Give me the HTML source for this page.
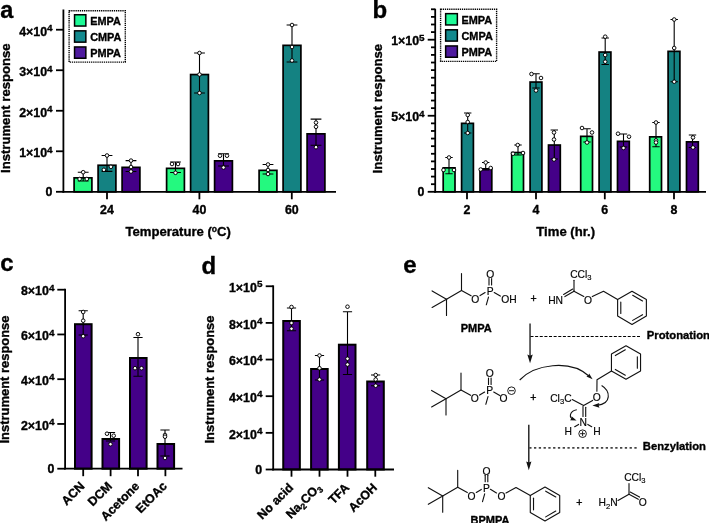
<!DOCTYPE html>
<html lang="en"><head><meta charset="utf-8"><title>Figure</title>
<style>
html,body{margin:0;padding:0;background:#fff;}
svg{display:block;will-change:transform;font-family:"Liberation Sans",Arial,Helvetica,sans-serif;}
text{fill:#000;}
text[font-weight="bold"]{stroke:#000;stroke-width:.35px;stroke-linejoin:round;}
</style></head><body>
<svg width="709" height="523" viewBox="0 0 709 523">
<g id="pa">
<text x="0.30" y="18.20" font-size="23.5" font-weight="bold" text-anchor="start" >a</text>
<rect x="74.10" y="177.85" width="17.80" height="13.95" fill="#24f97f" stroke="#000" stroke-width="1.7"/>
<rect x="98.10" y="165.25" width="17.80" height="26.55" fill="#148282" stroke="#000" stroke-width="1.7"/>
<rect x="122.10" y="167.35" width="17.80" height="24.45" fill="#440088" stroke="#000" stroke-width="1.7"/>
<rect x="166.60" y="168.35" width="17.80" height="23.45" fill="#24f97f" stroke="#000" stroke-width="1.7"/>
<rect x="190.60" y="74.55" width="17.80" height="117.25" fill="#148282" stroke="#000" stroke-width="1.7"/>
<rect x="214.60" y="160.85" width="17.80" height="30.95" fill="#440088" stroke="#000" stroke-width="1.7"/>
<rect x="259.10" y="170.35" width="17.80" height="21.45" fill="#24f97f" stroke="#000" stroke-width="1.7"/>
<rect x="283.10" y="45.35" width="17.80" height="146.45" fill="#148282" stroke="#000" stroke-width="1.7"/>
<rect x="307.10" y="133.85" width="17.80" height="57.95" fill="#440088" stroke="#000" stroke-width="1.7"/>
<path d="M83.20 172.20V181.00M77.80 172.20H88.60M77.80 181.00H88.60" stroke="#000" stroke-width="1.1" fill="none"/>
<circle cx="83.20" cy="172.20" r="1.8" fill="#fff" stroke="#000" stroke-width="0.95"/>
<circle cx="79.60" cy="179.00" r="1.8" fill="#fff" stroke="#000" stroke-width="0.95"/>
<circle cx="86.80" cy="179.00" r="1.8" fill="#fff" stroke="#000" stroke-width="0.95"/>
<path d="M107.00 155.50V171.40M101.60 155.50H112.40M101.60 171.40H112.40" stroke="#000" stroke-width="1.1" fill="none"/>
<circle cx="107.00" cy="155.50" r="1.8" fill="#fff" stroke="#000" stroke-width="0.95"/>
<circle cx="103.90" cy="169.80" r="1.8" fill="#fff" stroke="#000" stroke-width="0.95"/>
<circle cx="110.90" cy="166.80" r="1.8" fill="#fff" stroke="#000" stroke-width="0.95"/>
<path d="M131.00 160.60V171.50M125.60 160.60H136.40M125.60 171.50H136.40" stroke="#000" stroke-width="1.1" fill="none"/>
<circle cx="131.00" cy="160.60" r="1.8" fill="#fff" stroke="#000" stroke-width="0.95"/>
<circle cx="131.00" cy="167.00" r="1.8" fill="#fff" stroke="#000" stroke-width="0.95"/>
<circle cx="131.00" cy="171.50" r="1.8" fill="#fff" stroke="#000" stroke-width="0.95"/>
<path d="M175.50 162.00V172.50M170.10 162.00H180.90M170.10 172.50H180.90" stroke="#000" stroke-width="1.1" fill="none"/>
<circle cx="172.00" cy="164.00" r="1.8" fill="#fff" stroke="#000" stroke-width="0.95"/>
<circle cx="178.00" cy="164.00" r="1.8" fill="#fff" stroke="#000" stroke-width="0.95"/>
<circle cx="175.50" cy="172.80" r="1.8" fill="#fff" stroke="#000" stroke-width="0.95"/>
<path d="M199.50 53.00V93.00M194.10 53.00H204.90M194.10 93.00H204.90" stroke="#000" stroke-width="1.1" fill="none"/>
<circle cx="199.50" cy="53.00" r="1.8" fill="#fff" stroke="#000" stroke-width="0.95"/>
<circle cx="199.50" cy="74.50" r="1.8" fill="#fff" stroke="#000" stroke-width="0.95"/>
<circle cx="199.50" cy="93.00" r="1.8" fill="#fff" stroke="#000" stroke-width="0.95"/>
<path d="M223.50 153.70V166.00M218.10 153.70H228.90M218.10 166.00H228.90" stroke="#000" stroke-width="1.1" fill="none"/>
<circle cx="220.00" cy="155.70" r="1.8" fill="#fff" stroke="#000" stroke-width="0.95"/>
<circle cx="227.00" cy="155.70" r="1.8" fill="#fff" stroke="#000" stroke-width="0.95"/>
<circle cx="223.50" cy="167.50" r="1.8" fill="#fff" stroke="#000" stroke-width="0.95"/>
<path d="M268.00 164.50V174.00M262.60 164.50H273.40M262.60 174.00H273.40" stroke="#000" stroke-width="1.1" fill="none"/>
<circle cx="268.00" cy="164.50" r="1.8" fill="#fff" stroke="#000" stroke-width="0.95"/>
<circle cx="268.00" cy="170.00" r="1.8" fill="#fff" stroke="#000" stroke-width="0.95"/>
<circle cx="268.00" cy="174.00" r="1.8" fill="#fff" stroke="#000" stroke-width="0.95"/>
<path d="M292.00 25.00V62.00M286.60 25.00H297.40M286.60 62.00H297.40" stroke="#000" stroke-width="1.1" fill="none"/>
<circle cx="292.00" cy="25.00" r="1.8" fill="#fff" stroke="#000" stroke-width="0.95"/>
<circle cx="292.00" cy="47.00" r="1.8" fill="#fff" stroke="#000" stroke-width="0.95"/>
<circle cx="292.00" cy="60.50" r="1.8" fill="#fff" stroke="#000" stroke-width="0.95"/>
<path d="M316.00 119.10V145.30M310.60 119.10H321.40M310.60 145.30H321.40" stroke="#000" stroke-width="1.1" fill="none"/>
<circle cx="316.00" cy="122.60" r="1.8" fill="#fff" stroke="#000" stroke-width="0.95"/>
<circle cx="316.00" cy="126.80" r="1.8" fill="#fff" stroke="#000" stroke-width="0.95"/>
<circle cx="316.00" cy="147.20" r="1.8" fill="#fff" stroke="#000" stroke-width="0.95"/>
<line x1="63.40" y1="9.50" x2="63.40" y2="192.70" stroke="#000" stroke-width="1.8" />
<line x1="62.50" y1="191.80" x2="336.00" y2="191.80" stroke="#000" stroke-width="1.8" />
<line x1="56.00" y1="191.80" x2="63.40" y2="191.80" stroke="#000" stroke-width="1.8" />
<text x="52.50" y="196.00" font-size="12.4" font-weight="bold" text-anchor="end" >0</text>
<line x1="56.00" y1="151.28" x2="63.40" y2="151.28" stroke="#000" stroke-width="1.8" />
<text x="52.60" y="157.08" font-size="12.4" font-weight="bold" text-anchor="end">1×10<tspan font-size="9.92" dy="-4.5">4</tspan></text>
<line x1="56.00" y1="110.76" x2="63.40" y2="110.76" stroke="#000" stroke-width="1.8" />
<text x="52.60" y="116.56" font-size="12.4" font-weight="bold" text-anchor="end">2×10<tspan font-size="9.92" dy="-4.5">4</tspan></text>
<line x1="56.00" y1="70.24" x2="63.40" y2="70.24" stroke="#000" stroke-width="1.8" />
<text x="52.60" y="76.04" font-size="12.4" font-weight="bold" text-anchor="end">3×10<tspan font-size="9.92" dy="-4.5">4</tspan></text>
<line x1="56.00" y1="29.72" x2="63.40" y2="29.72" stroke="#000" stroke-width="1.8" />
<text x="52.60" y="35.52" font-size="12.4" font-weight="bold" text-anchor="end">4×10<tspan font-size="9.92" dy="-4.5">4</tspan></text>
<line x1="107.00" y1="191.80" x2="107.00" y2="199.30" stroke="#000" stroke-width="1.8" />
<text x="107.00" y="213.50" font-size="12.4" font-weight="bold" text-anchor="middle" >24</text>
<line x1="199.40" y1="191.80" x2="199.40" y2="199.30" stroke="#000" stroke-width="1.8" />
<text x="199.40" y="213.50" font-size="12.4" font-weight="bold" text-anchor="middle" >40</text>
<line x1="291.80" y1="191.80" x2="291.80" y2="199.30" stroke="#000" stroke-width="1.8" />
<text x="291.80" y="213.50" font-size="12.4" font-weight="bold" text-anchor="middle" >60</text>
<text x="178.2" y="235.8" font-size="13.1" font-weight="bold" text-anchor="middle">Temperature (<tspan font-size="8.5" dy="-3.5">o</tspan><tspan dy="3.5">C)</tspan></text>
<text transform="translate(10.40 108.20) rotate(-90)" font-size="13.1" font-weight="bold" text-anchor="middle">Instrument response</text>
<rect x="69.1" y="10.7" width="56.2" height="51.4" fill="#fff" stroke="#000" stroke-width="1.4" stroke-dasharray="1.3 0.83"/>
<rect x="74.55" y="14.75" width="11.3" height="11.3" fill="#1dfa96" stroke="#000" stroke-width="1.5"/>
<text x="90.20" y="25.00" font-size="10.9" font-weight="bold" text-anchor="start" >EMPA</text>
<rect x="74.55" y="30.85" width="11.3" height="11.3" fill="#12898e" stroke="#000" stroke-width="1.5"/>
<text x="90.20" y="41.05" font-size="10.9" font-weight="bold" text-anchor="start" >CMPA</text>
<rect x="74.55" y="46.95" width="11.3" height="11.3" fill="#4e1a9e" stroke="#000" stroke-width="1.5"/>
<text x="90.20" y="57.10" font-size="10.9" font-weight="bold" text-anchor="start" >PMPA</text>
</g>
<g id="pb">
<text x="372.60" y="17.60" font-size="24" font-weight="bold" text-anchor="start" >b</text>
<rect x="443.20" y="167.85" width="11.80" height="23.95" fill="#24f97f" stroke="#000" stroke-width="1.7"/>
<rect x="461.60" y="123.35" width="11.80" height="68.45" fill="#148282" stroke="#000" stroke-width="1.7"/>
<rect x="480.00" y="168.85" width="11.80" height="22.95" fill="#440088" stroke="#000" stroke-width="1.7"/>
<rect x="511.70" y="152.55" width="11.80" height="39.25" fill="#24f97f" stroke="#000" stroke-width="1.7"/>
<rect x="530.10" y="82.05" width="11.80" height="109.75" fill="#148282" stroke="#000" stroke-width="1.7"/>
<rect x="548.50" y="145.05" width="11.80" height="46.75" fill="#440088" stroke="#000" stroke-width="1.7"/>
<rect x="580.70" y="136.35" width="11.80" height="55.45" fill="#24f97f" stroke="#000" stroke-width="1.7"/>
<rect x="599.10" y="52.05" width="11.80" height="139.75" fill="#148282" stroke="#000" stroke-width="1.7"/>
<rect x="617.50" y="141.35" width="11.80" height="50.45" fill="#440088" stroke="#000" stroke-width="1.7"/>
<rect x="649.70" y="136.85" width="11.80" height="54.95" fill="#24f97f" stroke="#000" stroke-width="1.7"/>
<rect x="668.10" y="51.35" width="11.80" height="140.45" fill="#148282" stroke="#000" stroke-width="1.7"/>
<rect x="686.50" y="141.85" width="11.80" height="49.95" fill="#440088" stroke="#000" stroke-width="1.7"/>
<path d="M449.00 157.50V173.70M445.30 157.50H452.70M445.30 173.70H452.70" stroke="#000" stroke-width="1.1" fill="none"/>
<circle cx="449.00" cy="157.50" r="1.8" fill="#fff" stroke="#000" stroke-width="0.95"/>
<circle cx="443.50" cy="170.00" r="1.8" fill="#fff" stroke="#000" stroke-width="0.95"/>
<circle cx="454.00" cy="170.00" r="1.8" fill="#fff" stroke="#000" stroke-width="0.95"/>
<path d="M467.70 113.00V133.00M464.00 113.00H471.40M464.00 133.00H471.40" stroke="#000" stroke-width="1.1" fill="none"/>
<circle cx="467.70" cy="115.00" r="1.8" fill="#fff" stroke="#000" stroke-width="0.95"/>
<circle cx="467.70" cy="122.00" r="1.8" fill="#fff" stroke="#000" stroke-width="0.95"/>
<circle cx="467.70" cy="133.00" r="1.8" fill="#fff" stroke="#000" stroke-width="0.95"/>
<path d="M485.70 162.50V170.00M482.00 162.50H489.40M482.00 170.00H489.40" stroke="#000" stroke-width="1.1" fill="none"/>
<circle cx="485.70" cy="162.50" r="1.8" fill="#fff" stroke="#000" stroke-width="0.95"/>
<circle cx="480.70" cy="169.50" r="1.8" fill="#fff" stroke="#000" stroke-width="0.95"/>
<circle cx="490.70" cy="168.00" r="1.8" fill="#fff" stroke="#000" stroke-width="0.95"/>
<path d="M518.00 145.00V155.00M514.30 145.00H521.70M514.30 155.00H521.70" stroke="#000" stroke-width="1.1" fill="none"/>
<circle cx="517.70" cy="145.00" r="1.8" fill="#fff" stroke="#000" stroke-width="0.95"/>
<circle cx="513.00" cy="153.70" r="1.8" fill="#fff" stroke="#000" stroke-width="0.95"/>
<circle cx="523.00" cy="153.00" r="1.8" fill="#fff" stroke="#000" stroke-width="0.95"/>
<path d="M536.00 73.70V88.00M532.30 73.70H539.70M532.30 88.00H539.70" stroke="#000" stroke-width="1.1" fill="none"/>
<circle cx="531.50" cy="74.00" r="1.8" fill="#fff" stroke="#000" stroke-width="0.95"/>
<circle cx="541.00" cy="78.00" r="1.8" fill="#fff" stroke="#000" stroke-width="0.95"/>
<circle cx="536.00" cy="90.50" r="1.8" fill="#fff" stroke="#000" stroke-width="0.95"/>
<path d="M554.30 130.00V159.00M550.60 130.00H558.00M550.60 159.00H558.00" stroke="#000" stroke-width="1.1" fill="none"/>
<circle cx="554.00" cy="132.50" r="1.8" fill="#fff" stroke="#000" stroke-width="0.95"/>
<circle cx="554.00" cy="139.50" r="1.8" fill="#fff" stroke="#000" stroke-width="0.95"/>
<circle cx="554.00" cy="159.50" r="1.8" fill="#fff" stroke="#000" stroke-width="0.95"/>
<path d="M587.00 128.70V142.00M583.30 128.70H590.70M583.30 142.00H590.70" stroke="#000" stroke-width="1.1" fill="none"/>
<circle cx="582.00" cy="128.00" r="1.8" fill="#fff" stroke="#000" stroke-width="0.95"/>
<circle cx="592.00" cy="132.50" r="1.8" fill="#fff" stroke="#000" stroke-width="0.95"/>
<circle cx="587.00" cy="142.50" r="1.8" fill="#fff" stroke="#000" stroke-width="0.95"/>
<path d="M605.20 38.00V64.50M601.50 38.00H608.90M601.50 64.50H608.90" stroke="#000" stroke-width="1.1" fill="none"/>
<circle cx="605.20" cy="36.70" r="1.8" fill="#fff" stroke="#000" stroke-width="0.95"/>
<circle cx="605.20" cy="55.00" r="1.8" fill="#fff" stroke="#000" stroke-width="0.95"/>
<circle cx="605.20" cy="61.70" r="1.8" fill="#fff" stroke="#000" stroke-width="0.95"/>
<path d="M623.50 134.00V147.00M619.80 134.00H627.20M619.80 147.00H627.20" stroke="#000" stroke-width="1.1" fill="none"/>
<circle cx="618.00" cy="133.70" r="1.8" fill="#fff" stroke="#000" stroke-width="0.95"/>
<circle cx="629.00" cy="136.70" r="1.8" fill="#fff" stroke="#000" stroke-width="0.95"/>
<circle cx="623.50" cy="148.00" r="1.8" fill="#fff" stroke="#000" stroke-width="0.95"/>
<path d="M656.00 122.50V146.70M652.30 122.50H659.70M652.30 146.70H659.70" stroke="#000" stroke-width="1.1" fill="none"/>
<circle cx="656.00" cy="122.50" r="1.8" fill="#fff" stroke="#000" stroke-width="0.95"/>
<circle cx="656.00" cy="140.50" r="1.8" fill="#fff" stroke="#000" stroke-width="0.95"/>
<circle cx="656.00" cy="142.50" r="1.8" fill="#fff" stroke="#000" stroke-width="0.95"/>
<path d="M674.20 19.50V81.70M670.50 19.50H677.90M670.50 81.70H677.90" stroke="#000" stroke-width="1.1" fill="none"/>
<circle cx="674.20" cy="19.50" r="1.8" fill="#fff" stroke="#000" stroke-width="0.95"/>
<circle cx="674.20" cy="48.00" r="1.8" fill="#fff" stroke="#000" stroke-width="0.95"/>
<circle cx="674.20" cy="81.70" r="1.8" fill="#fff" stroke="#000" stroke-width="0.95"/>
<path d="M692.50 135.00V147.50M688.80 135.00H696.20M688.80 147.50H696.20" stroke="#000" stroke-width="1.1" fill="none"/>
<circle cx="693.00" cy="137.50" r="1.8" fill="#fff" stroke="#000" stroke-width="0.95"/>
<circle cx="693.00" cy="147.50" r="1.8" fill="#fff" stroke="#000" stroke-width="0.95"/>
<line x1="435.20" y1="8.75" x2="435.20" y2="192.70" stroke="#000" stroke-width="1.8" />
<line x1="434.30" y1="191.80" x2="706.00" y2="191.80" stroke="#000" stroke-width="1.8" />
<line x1="427.70" y1="191.80" x2="435.20" y2="191.80" stroke="#000" stroke-width="1.8" />
<line x1="431.00" y1="184.20" x2="435.20" y2="184.20" stroke="#000" stroke-width="1.8" />
<line x1="431.00" y1="176.59" x2="435.20" y2="176.59" stroke="#000" stroke-width="1.8" />
<line x1="431.00" y1="168.99" x2="435.20" y2="168.99" stroke="#000" stroke-width="1.8" />
<line x1="431.00" y1="161.38" x2="435.20" y2="161.38" stroke="#000" stroke-width="1.8" />
<line x1="431.00" y1="153.78" x2="435.20" y2="153.78" stroke="#000" stroke-width="1.8" />
<line x1="431.00" y1="146.17" x2="435.20" y2="146.17" stroke="#000" stroke-width="1.8" />
<line x1="431.00" y1="138.56" x2="435.20" y2="138.56" stroke="#000" stroke-width="1.8" />
<line x1="431.00" y1="130.96" x2="435.20" y2="130.96" stroke="#000" stroke-width="1.8" />
<line x1="431.00" y1="123.36" x2="435.20" y2="123.36" stroke="#000" stroke-width="1.8" />
<line x1="427.70" y1="115.75" x2="435.20" y2="115.75" stroke="#000" stroke-width="1.8" />
<line x1="431.00" y1="108.15" x2="435.20" y2="108.15" stroke="#000" stroke-width="1.8" />
<line x1="431.00" y1="100.54" x2="435.20" y2="100.54" stroke="#000" stroke-width="1.8" />
<line x1="431.00" y1="92.94" x2="435.20" y2="92.94" stroke="#000" stroke-width="1.8" />
<line x1="431.00" y1="85.33" x2="435.20" y2="85.33" stroke="#000" stroke-width="1.8" />
<line x1="431.00" y1="77.73" x2="435.20" y2="77.73" stroke="#000" stroke-width="1.8" />
<line x1="431.00" y1="70.12" x2="435.20" y2="70.12" stroke="#000" stroke-width="1.8" />
<line x1="431.00" y1="62.52" x2="435.20" y2="62.52" stroke="#000" stroke-width="1.8" />
<line x1="431.00" y1="54.91" x2="435.20" y2="54.91" stroke="#000" stroke-width="1.8" />
<line x1="431.00" y1="47.31" x2="435.20" y2="47.31" stroke="#000" stroke-width="1.8" />
<line x1="427.70" y1="39.70" x2="435.20" y2="39.70" stroke="#000" stroke-width="1.8" />
<line x1="431.00" y1="32.09" x2="435.20" y2="32.09" stroke="#000" stroke-width="1.8" />
<line x1="431.00" y1="24.49" x2="435.20" y2="24.49" stroke="#000" stroke-width="1.8" />
<line x1="431.00" y1="16.88" x2="435.20" y2="16.88" stroke="#000" stroke-width="1.8" />
<line x1="431.00" y1="9.28" x2="435.20" y2="9.28" stroke="#000" stroke-width="1.8" />
<text x="424.30" y="196.00" font-size="12.4" font-weight="bold" text-anchor="end" >0</text>
<text x="424.60" y="121.35" font-size="12.4" font-weight="bold" text-anchor="end">5×10<tspan font-size="9.92" dy="-4.5">4</tspan></text>
<text x="424.60" y="45.30" font-size="12.4" font-weight="bold" text-anchor="end">1×10<tspan font-size="9.92" dy="-4.5">5</tspan></text>
<line x1="467.00" y1="191.80" x2="467.00" y2="199.30" stroke="#000" stroke-width="1.8" />
<text x="467.00" y="213.50" font-size="12.4" font-weight="bold" text-anchor="middle" >2</text>
<line x1="536.00" y1="191.80" x2="536.00" y2="199.30" stroke="#000" stroke-width="1.8" />
<text x="536.00" y="213.50" font-size="12.4" font-weight="bold" text-anchor="middle" >4</text>
<line x1="604.80" y1="191.80" x2="604.80" y2="199.30" stroke="#000" stroke-width="1.8" />
<text x="604.80" y="213.50" font-size="12.4" font-weight="bold" text-anchor="middle" >6</text>
<line x1="674.00" y1="191.80" x2="674.00" y2="199.30" stroke="#000" stroke-width="1.8" />
<text x="674.00" y="213.50" font-size="12.4" font-weight="bold" text-anchor="middle" >8</text>
<text x="565.70" y="236.00" font-size="13.1" font-weight="bold" text-anchor="middle" >Time (hr.)</text>
<text transform="translate(381.60 108.70) rotate(-90)" font-size="13.1" font-weight="bold" text-anchor="middle">Instrument response</text>
<rect x="440.6" y="9.2" width="56" height="52.2" fill="#fff" stroke="#000" stroke-width="1.4" stroke-dasharray="1.3 0.83"/>
<rect x="445.65" y="13.65" width="11.7" height="11.3" fill="#1dfa96" stroke="#000" stroke-width="1.5"/>
<text x="461.50" y="23.90" font-size="10.9" font-weight="bold" text-anchor="start" >EMPA</text>
<rect x="445.65" y="29.80" width="11.7" height="11.3" fill="#12898e" stroke="#000" stroke-width="1.5"/>
<text x="461.50" y="40.00" font-size="10.9" font-weight="bold" text-anchor="start" >CMPA</text>
<rect x="445.65" y="45.95" width="11.7" height="11.3" fill="#4e1a9e" stroke="#000" stroke-width="1.5"/>
<text x="461.50" y="56.10" font-size="10.9" font-weight="bold" text-anchor="start" >PMPA</text>
</g>
<g id="pc">
<text x="0.20" y="271.00" font-size="24" font-weight="bold" text-anchor="start" >c</text>
<rect x="75.00" y="324.20" width="16.60" height="144.50" fill="#440088" stroke="#000" stroke-width="2.0"/>
<rect x="102.50" y="439.00" width="16.60" height="29.70" fill="#440088" stroke="#000" stroke-width="2.0"/>
<rect x="130.00" y="358.00" width="16.60" height="110.70" fill="#440088" stroke="#000" stroke-width="2.0"/>
<rect x="157.50" y="444.00" width="16.60" height="24.70" fill="#440088" stroke="#000" stroke-width="2.0"/>
<path d="M83.20 310.70V335.00M78.60 310.70H87.80M78.60 335.00H87.80" stroke="#000" stroke-width="1.1" fill="none"/>
<circle cx="83.20" cy="312.00" r="1.8" fill="#fff" stroke="#000" stroke-width="0.95"/>
<circle cx="83.20" cy="320.70" r="1.8" fill="#fff" stroke="#000" stroke-width="0.95"/>
<circle cx="83.20" cy="336.20" r="1.8" fill="#fff" stroke="#000" stroke-width="0.95"/>
<path d="M110.50 432.50V441.00M105.90 432.50H115.10M105.90 441.00H115.10" stroke="#000" stroke-width="1.1" fill="none"/>
<circle cx="107.00" cy="433.70" r="1.8" fill="#fff" stroke="#000" stroke-width="0.95"/>
<circle cx="113.70" cy="435.70" r="1.8" fill="#fff" stroke="#000" stroke-width="0.95"/>
<circle cx="110.50" cy="444.20" r="1.8" fill="#fff" stroke="#000" stroke-width="0.95"/>
<path d="M138.00 337.50V376.20M133.40 337.50H142.60M133.40 376.20H142.60" stroke="#000" stroke-width="1.1" fill="none"/>
<circle cx="138.00" cy="334.20" r="1.8" fill="#fff" stroke="#000" stroke-width="0.95"/>
<circle cx="135.00" cy="368.20" r="1.8" fill="#fff" stroke="#000" stroke-width="0.95"/>
<circle cx="141.50" cy="368.20" r="1.8" fill="#fff" stroke="#000" stroke-width="0.95"/>
<path d="M165.00 430.00V456.00M160.40 430.00H169.60M160.40 456.00H169.60" stroke="#000" stroke-width="1.1" fill="none"/>
<circle cx="165.00" cy="435.00" r="1.8" fill="#fff" stroke="#000" stroke-width="0.95"/>
<circle cx="165.00" cy="436.70" r="1.8" fill="#fff" stroke="#000" stroke-width="0.95"/>
<circle cx="165.00" cy="458.00" r="1.8" fill="#fff" stroke="#000" stroke-width="0.95"/>
<line x1="65.10" y1="288.80" x2="65.10" y2="469.60" stroke="#000" stroke-width="1.8" />
<line x1="64.20" y1="468.70" x2="182.50" y2="468.70" stroke="#000" stroke-width="1.8" />
<line x1="57.30" y1="468.70" x2="65.10" y2="468.70" stroke="#000" stroke-width="1.8" />
<text x="54.30" y="472.90" font-size="12.4" font-weight="bold" text-anchor="end" >0</text>
<line x1="57.30" y1="423.95" x2="65.10" y2="423.95" stroke="#000" stroke-width="1.8" />
<text x="54.40" y="429.65" font-size="12.4" font-weight="bold" text-anchor="end">2×10<tspan font-size="9.92" dy="-4.5">4</tspan></text>
<line x1="57.30" y1="379.20" x2="65.10" y2="379.20" stroke="#000" stroke-width="1.8" />
<text x="54.40" y="384.90" font-size="12.4" font-weight="bold" text-anchor="end">4×10<tspan font-size="9.92" dy="-4.5">4</tspan></text>
<line x1="57.30" y1="334.45" x2="65.10" y2="334.45" stroke="#000" stroke-width="1.8" />
<text x="54.40" y="340.15" font-size="12.4" font-weight="bold" text-anchor="end">6×10<tspan font-size="9.92" dy="-4.5">4</tspan></text>
<line x1="57.30" y1="289.70" x2="65.10" y2="289.70" stroke="#000" stroke-width="1.8" />
<text x="54.40" y="295.40" font-size="12.4" font-weight="bold" text-anchor="end">8×10<tspan font-size="9.92" dy="-4.5">4</tspan></text>
<line x1="83.20" y1="468.70" x2="83.20" y2="476.20" stroke="#000" stroke-width="1.8" />
<text transform="translate(85.40 486.90) rotate(-45)" font-size="12.4" font-weight="bold" text-anchor="end">ACN</text>
<line x1="110.60" y1="468.70" x2="110.60" y2="476.20" stroke="#000" stroke-width="1.8" />
<text transform="translate(112.80 486.90) rotate(-45)" font-size="12.4" font-weight="bold" text-anchor="end">DCM</text>
<line x1="138.00" y1="468.70" x2="138.00" y2="476.20" stroke="#000" stroke-width="1.8" />
<text transform="translate(140.20 486.90) rotate(-45)" font-size="12.4" font-weight="bold" text-anchor="end">Acetone</text>
<line x1="165.40" y1="468.70" x2="165.40" y2="476.20" stroke="#000" stroke-width="1.8" />
<text transform="translate(167.60 486.90) rotate(-45)" font-size="12.4" font-weight="bold" text-anchor="end">EtOAc</text>
<text transform="translate(8.60 379.50) rotate(-90)" font-size="12.95" font-weight="bold" text-anchor="middle">Instrument response</text>
</g>
<g id="pd">
<text x="201.60" y="273.80" font-size="24" font-weight="bold" text-anchor="start" >d</text>
<rect x="283.25" y="321.00" width="16.60" height="148.50" fill="#440088" stroke="#000" stroke-width="2.0"/>
<rect x="311.10" y="369.00" width="16.60" height="100.50" fill="#440088" stroke="#000" stroke-width="2.0"/>
<rect x="338.90" y="344.70" width="16.60" height="124.80" fill="#440088" stroke="#000" stroke-width="2.0"/>
<rect x="367.20" y="381.50" width="16.60" height="88.00" fill="#440088" stroke="#000" stroke-width="2.0"/>
<path d="M291.50 308.00V330.70M286.90 308.00H296.10M286.90 330.70H296.10" stroke="#000" stroke-width="1.1" fill="none"/>
<circle cx="291.50" cy="307.00" r="1.8" fill="#fff" stroke="#000" stroke-width="0.95"/>
<circle cx="291.50" cy="323.00" r="1.8" fill="#fff" stroke="#000" stroke-width="0.95"/>
<circle cx="291.50" cy="328.70" r="1.8" fill="#fff" stroke="#000" stroke-width="0.95"/>
<path d="M319.50 355.50V380.00M314.90 355.50H324.10M314.90 380.00H324.10" stroke="#000" stroke-width="1.1" fill="none"/>
<circle cx="319.50" cy="355.50" r="1.8" fill="#fff" stroke="#000" stroke-width="0.95"/>
<circle cx="319.50" cy="368.20" r="1.8" fill="#fff" stroke="#000" stroke-width="0.95"/>
<circle cx="319.50" cy="379.50" r="1.8" fill="#fff" stroke="#000" stroke-width="0.95"/>
<path d="M347.50 311.70V374.50M342.90 311.70H352.10M342.90 374.50H352.10" stroke="#000" stroke-width="1.1" fill="none"/>
<circle cx="347.50" cy="306.70" r="1.8" fill="#fff" stroke="#000" stroke-width="0.95"/>
<circle cx="347.50" cy="358.70" r="1.8" fill="#fff" stroke="#000" stroke-width="0.95"/>
<circle cx="347.50" cy="364.50" r="1.8" fill="#fff" stroke="#000" stroke-width="0.95"/>
<path d="M375.60 375.00V385.70M371.00 375.00H380.20M371.00 385.70H380.20" stroke="#000" stroke-width="1.1" fill="none"/>
<circle cx="375.70" cy="375.00" r="1.8" fill="#fff" stroke="#000" stroke-width="0.95"/>
<circle cx="375.70" cy="379.50" r="1.8" fill="#fff" stroke="#000" stroke-width="0.95"/>
<circle cx="375.70" cy="385.70" r="1.8" fill="#fff" stroke="#000" stroke-width="0.95"/>
<line x1="273.20" y1="285.35" x2="273.20" y2="470.40" stroke="#000" stroke-width="1.8" />
<line x1="272.30" y1="469.50" x2="394.00" y2="469.50" stroke="#000" stroke-width="1.8" />
<line x1="265.70" y1="469.50" x2="273.20" y2="469.50" stroke="#000" stroke-width="1.8" />
<text x="262.20" y="473.70" font-size="12.4" font-weight="bold" text-anchor="end" >0</text>
<line x1="265.70" y1="432.85" x2="273.20" y2="432.85" stroke="#000" stroke-width="1.8" />
<text x="262.40" y="438.55" font-size="12.4" font-weight="bold" text-anchor="end">2×10<tspan font-size="9.92" dy="-4.5">4</tspan></text>
<line x1="265.70" y1="396.20" x2="273.20" y2="396.20" stroke="#000" stroke-width="1.8" />
<text x="262.40" y="401.90" font-size="12.4" font-weight="bold" text-anchor="end">4×10<tspan font-size="9.92" dy="-4.5">4</tspan></text>
<line x1="265.70" y1="359.55" x2="273.20" y2="359.55" stroke="#000" stroke-width="1.8" />
<text x="262.40" y="365.25" font-size="12.4" font-weight="bold" text-anchor="end">6×10<tspan font-size="9.92" dy="-4.5">4</tspan></text>
<line x1="265.70" y1="322.90" x2="273.20" y2="322.90" stroke="#000" stroke-width="1.8" />
<text x="262.40" y="328.60" font-size="12.4" font-weight="bold" text-anchor="end">8×10<tspan font-size="9.92" dy="-4.5">4</tspan></text>
<line x1="265.70" y1="286.25" x2="273.20" y2="286.25" stroke="#000" stroke-width="1.8" />
<text x="262.40" y="291.95" font-size="12.4" font-weight="bold" text-anchor="end">1×10<tspan font-size="9.92" dy="-4.5">5</tspan></text>
<line x1="291.50" y1="469.50" x2="291.50" y2="476.70" stroke="#000" stroke-width="1.8" />
<text transform="translate(294.00 488.30) rotate(-45)" font-size="12.4" font-weight="bold" text-anchor="end">No acid</text>
<line x1="319.50" y1="469.50" x2="319.50" y2="476.70" stroke="#000" stroke-width="1.8" />
<text transform="translate(322.00 488.30) rotate(-45)" font-size="12.4" font-weight="bold" text-anchor="end">Na<tspan font-size="8.5" dy="2.5">2</tspan><tspan dy="-2.5">CO</tspan><tspan font-size="8.5" dy="2.5">3</tspan></text>
<line x1="347.50" y1="469.50" x2="347.50" y2="476.70" stroke="#000" stroke-width="1.8" />
<text transform="translate(350.00 488.30) rotate(-45)" font-size="12.4" font-weight="bold" text-anchor="end">TFA</text>
<line x1="375.30" y1="469.50" x2="375.30" y2="476.70" stroke="#000" stroke-width="1.8" />
<text transform="translate(377.80 488.30) rotate(-45)" font-size="12.4" font-weight="bold" text-anchor="end">AcOH</text>
<text transform="translate(213.80 379.50) rotate(-90)" font-size="12.95" font-weight="bold" text-anchor="middle">Instrument response</text>
</g>
<g id="pe">
<text x="403.30" y="272.60" font-size="24" font-weight="bold" text-anchor="start">e</text>
<path d="M432.10 290.90 L446.50 299.20 L432.10 307.50" stroke="#111" stroke-width="1.12" fill="none" stroke-linecap="round" stroke-linejoin="round"/>
<path d="M446.50 299.20 L446.50 315.40" stroke="#111" stroke-width="1.12" fill="none" stroke-linecap="round" stroke-linejoin="round"/>
<path d="M446.50 299.20 L461.50 290.50 L461.50 273.50" stroke="#111" stroke-width="1.12" fill="none" stroke-linecap="round" stroke-linejoin="round"/>
<path d="M461.50 290.50 L471.10 295.80" stroke="#111" stroke-width="1.12" fill="none" stroke-linecap="round" stroke-linejoin="round"/>
<text x="475.30" y="302.91" font-size="10.3" text-anchor="middle" fill="#111" stroke="#111" stroke-width="0.18">O</text>
<path d="M480.10 295.60 L485.10 292.60" stroke="#111" stroke-width="1.12" fill="none" stroke-linecap="round" stroke-linejoin="round"/>
<text x="490.30" y="294.81" font-size="10.3" text-anchor="middle" fill="#111" stroke="#111" stroke-width="0.18">P</text>
<text x="490.30" y="277.71" font-size="10.3" text-anchor="middle" fill="#111" stroke="#111" stroke-width="0.18">O</text>
<path d="M489.00 278.50 L489.00 284.90" stroke="#111" stroke-width="1.12" fill="none" stroke-linecap="round" stroke-linejoin="round"/>
<path d="M491.60 278.50 L491.60 284.90" stroke="#111" stroke-width="1.12" fill="none" stroke-linecap="round" stroke-linejoin="round"/>
<path d="M488.50 297.10 L486.30 304.80" stroke="#111" stroke-width="1.12" fill="none" stroke-linecap="round" stroke-linejoin="round"/>
<path d="M494.20 292.50 L500.30 296.10" stroke="#111" stroke-width="1.12" fill="none" stroke-linecap="round" stroke-linejoin="round"/>
<text x="501.30" y="302.91" font-size="10.3" text-anchor="start" fill="#111" stroke="#111" stroke-width="0.18">OH</text>
<text x="476.20" y="331.80" font-size="11" font-weight="bold" text-anchor="middle">PMPA</text>
<text x="533.50" y="302.14" font-size="10.5" text-anchor="middle" fill="#111" stroke="#111" stroke-width="0.45">+</text>
<text x="548.20" y="303.71" font-size="10.3" text-anchor="start" fill="#111" stroke="#111" stroke-width="0.18">HN</text>
<path d="M564.90 296.60 L574.00 291.20" stroke="#111" stroke-width="1.12" fill="none" stroke-linecap="round" stroke-linejoin="round"/>
<path d="M563.62 294.45 L572.72 289.05" stroke="#111" stroke-width="1.12" fill="none" stroke-linecap="round" stroke-linejoin="round"/>
<path d="M574.00 291.20 L574.00 280.20" stroke="#111" stroke-width="1.12" fill="none" stroke-linecap="round" stroke-linejoin="round"/>
<text x="570.20" y="277.91" font-size="10.3" text-anchor="start" fill="#111" stroke="#111" stroke-width="0.18">CCl<tspan font-size="7.6" dy="2.4">3</tspan></text>
<path d="M574.00 291.20 L583.80 296.40" stroke="#111" stroke-width="1.12" fill="none" stroke-linecap="round" stroke-linejoin="round"/>
<text x="588.00" y="303.71" font-size="10.3" text-anchor="middle" fill="#111" stroke="#111" stroke-width="0.18">O</text>
<path d="M592.30 296.60 L603.50 291.20 L617.60 299.50" stroke="#111" stroke-width="1.12" fill="none" stroke-linecap="round" stroke-linejoin="round"/>
<path d="M632.00 291.20 L646.38 299.50 L646.38 316.10 L632.00 324.40 L617.62 316.10 L617.62 299.50Z" stroke="#111" stroke-width="1.12" fill="none" stroke-linejoin="round"/>
<path d="M620.79 313.50 L620.79 302.10" stroke="#111" stroke-width="1.12" fill="none" stroke-linecap="round" stroke-linejoin="round"/>
<path d="M632.67 295.24 L642.54 300.94" stroke="#111" stroke-width="1.12" fill="none" stroke-linecap="round" stroke-linejoin="round"/>
<path d="M642.54 314.66 L632.67 320.36" stroke="#111" stroke-width="1.12" fill="none" stroke-linecap="round" stroke-linejoin="round"/>
<path d="M530.05 323.4V357" stroke="#333" stroke-width="1.5" fill="none"/>
<path d="M530.05 363.20L527.35 354.60L530.05 355.63L532.75 354.60Z" fill="#111"/>
<path d="M530.5 336.45H640.5" stroke="#000" stroke-width="1.15" stroke-dasharray="3 1.63" fill="none"/>
<text x="646.80" y="338.80" font-size="11.25" font-weight="bold" text-anchor="start">Protonation</text>
<path d="M431.60 390.40 L446.00 398.70 L431.60 407.00" stroke="#111" stroke-width="1.12" fill="none" stroke-linecap="round" stroke-linejoin="round"/>
<path d="M446.00 398.70 L446.00 414.90" stroke="#111" stroke-width="1.12" fill="none" stroke-linecap="round" stroke-linejoin="round"/>
<path d="M446.00 398.70 L461.00 390.00 L461.00 373.00" stroke="#111" stroke-width="1.12" fill="none" stroke-linecap="round" stroke-linejoin="round"/>
<path d="M461.00 390.00 L470.60 395.30" stroke="#111" stroke-width="1.12" fill="none" stroke-linecap="round" stroke-linejoin="round"/>
<text x="474.80" y="402.41" font-size="10.3" text-anchor="middle" fill="#111" stroke="#111" stroke-width="0.18">O</text>
<path d="M479.60 395.10 L484.60 392.10" stroke="#111" stroke-width="1.12" fill="none" stroke-linecap="round" stroke-linejoin="round"/>
<text x="489.80" y="394.31" font-size="10.3" text-anchor="middle" fill="#111" stroke="#111" stroke-width="0.18">P</text>
<text x="489.80" y="377.21" font-size="10.3" text-anchor="middle" fill="#111" stroke="#111" stroke-width="0.18">O</text>
<path d="M488.50 378.00 L488.50 384.40" stroke="#111" stroke-width="1.12" fill="none" stroke-linecap="round" stroke-linejoin="round"/>
<path d="M491.10 378.00 L491.10 384.40" stroke="#111" stroke-width="1.12" fill="none" stroke-linecap="round" stroke-linejoin="round"/>
<path d="M488.00 396.60 L485.80 404.30" stroke="#111" stroke-width="1.12" fill="none" stroke-linecap="round" stroke-linejoin="round"/>
<path d="M493.70 392.00 L499.80 395.60" stroke="#111" stroke-width="1.12" fill="none" stroke-linecap="round" stroke-linejoin="round"/>
<text x="503.50" y="402.41" font-size="10.3" text-anchor="middle" fill="#111" stroke="#111" stroke-width="0.18">O</text>
<circle cx="511.5" cy="390.7" r="3.8" fill="none" stroke="#111" stroke-width="0.95"/>
<path d="M509.40 390.70 L513.60 390.70" stroke="#111" stroke-width="0.95" fill="none" stroke-linecap="round" stroke-linejoin="round"/>
<path d="M519.7 380C534 364.5 570 358.5 589.5 376.5" stroke="#111" stroke-width="1.12" fill="none"/>
<path d="M592.60 379.30L586.36 376.51L588.35 375.47L589.17 373.39Z" fill="#111"/>
<text x="533.30" y="400.84" font-size="10.5" text-anchor="middle" fill="#111" stroke="#111" stroke-width="0.45">+</text>
<text x="550.20" y="401.71" font-size="10.3" text-anchor="start" fill="#111" stroke="#111" stroke-width="0.18">Cl<tspan font-size="7.6" dy="2.4">3</tspan><tspan dy="-2.4">C</tspan></text>
<path d="M572.20 399.60 L583.60 405.60 L592.60 400.40" stroke="#111" stroke-width="1.12" fill="none" stroke-linecap="round" stroke-linejoin="round"/>
<text x="596.80" y="400.91" font-size="10.3" text-anchor="middle" fill="#111" stroke="#111" stroke-width="0.18">O</text>
<path d="M596.90 391.30 L597.00 379.80 L611.50 370.90" stroke="#111" stroke-width="1.12" fill="none" stroke-linecap="round" stroke-linejoin="round"/>
<path d="M626.00 345.70 L640.55 354.10 L640.55 370.90 L626.00 379.30 L611.45 370.90 L611.45 354.10Z" stroke="#111" stroke-width="1.12" fill="none" stroke-linejoin="round"/>
<path d="M615.33 355.55 L625.32 349.79" stroke="#111" stroke-width="1.12" fill="none" stroke-linecap="round" stroke-linejoin="round"/>
<path d="M637.35 356.73 L637.35 368.27" stroke="#111" stroke-width="1.12" fill="none" stroke-linecap="round" stroke-linejoin="round"/>
<path d="M625.32 375.21 L615.33 369.45" stroke="#111" stroke-width="1.12" fill="none" stroke-linecap="round" stroke-linejoin="round"/>
<path d="M583.00 406.60 L583.00 416.40" stroke="#111" stroke-width="1.12" fill="none" stroke-linecap="round" stroke-linejoin="round"/>
<path d="M585.70 407.20 L585.70 416.40" stroke="#111" stroke-width="1.12" fill="none" stroke-linecap="round" stroke-linejoin="round"/>
<text x="583.20" y="425.91" font-size="10.3" text-anchor="middle" fill="#111" stroke="#111" stroke-width="0.18">N</text>
<text x="568.10" y="434.71" font-size="10.3" text-anchor="middle" fill="#111" stroke="#111" stroke-width="0.18">H</text>
<text x="597.00" y="434.71" font-size="10.3" text-anchor="middle" fill="#111" stroke="#111" stroke-width="0.18">H</text>
<path d="M578.60 424.40 L574.70 426.70" stroke="#111" stroke-width="1.12" fill="none" stroke-linecap="round" stroke-linejoin="round"/>
<path d="M587.80 424.40 L591.70 426.70" stroke="#111" stroke-width="1.12" fill="none" stroke-linecap="round" stroke-linejoin="round"/>
<circle cx="582.6" cy="433.7" r="3.8" fill="none" stroke="#111" stroke-width="0.95"/>
<path d="M580.50 433.70 L584.70 433.70" stroke="#111" stroke-width="0.95" fill="none" stroke-linecap="round" stroke-linejoin="round"/>
<path d="M582.60 431.60 L582.60 435.80" stroke="#111" stroke-width="0.95" fill="none" stroke-linecap="round" stroke-linejoin="round"/>
<path d="M601.6 385.6C610.5 391 612 403.8 597 405.4" stroke="#111" stroke-width="1.12" fill="none"/>
<path d="M592.40 405.60L599.32 403.06L598.56 405.39L599.48 407.65Z" fill="#111"/>
<path d="M576.8 409.7C569.5 411 568.5 417.5 573.5 419.4" stroke="#111" stroke-width="1.12" fill="none"/>
<path d="M576.60 420.40L570.02 420.35L571.47 418.53L571.53 416.21Z" fill="#111"/>
<path d="M528.8 424.8V464" stroke="#1a1a1a" stroke-width="1.4" fill="none"/>
<path d="M528.80 470.30L526.20 461.50L528.80 462.56L531.40 461.50Z" fill="#111"/>
<path d="M529.2 447.95H637.5" stroke="#444" stroke-width="1.7" stroke-dasharray="2.3 2.48" fill="none"/>
<text x="642.80" y="450.00" font-size="11.25" font-weight="bold" text-anchor="start">Benzylation</text>
<path d="M428.30 487.70 L442.70 496.00 L428.30 504.30" stroke="#111" stroke-width="1.12" fill="none" stroke-linecap="round" stroke-linejoin="round"/>
<path d="M442.70 496.00 L442.70 512.20" stroke="#111" stroke-width="1.12" fill="none" stroke-linecap="round" stroke-linejoin="round"/>
<path d="M442.70 496.00 L457.70 487.30 L457.70 470.30" stroke="#111" stroke-width="1.12" fill="none" stroke-linecap="round" stroke-linejoin="round"/>
<path d="M457.70 487.30 L467.30 492.60" stroke="#111" stroke-width="1.12" fill="none" stroke-linecap="round" stroke-linejoin="round"/>
<text x="471.50" y="499.71" font-size="10.3" text-anchor="middle" fill="#111" stroke="#111" stroke-width="0.18">O</text>
<path d="M476.30 492.40 L481.30 489.40" stroke="#111" stroke-width="1.12" fill="none" stroke-linecap="round" stroke-linejoin="round"/>
<text x="486.50" y="491.61" font-size="10.3" text-anchor="middle" fill="#111" stroke="#111" stroke-width="0.18">P</text>
<text x="486.50" y="474.51" font-size="10.3" text-anchor="middle" fill="#111" stroke="#111" stroke-width="0.18">O</text>
<path d="M485.20 475.30 L485.20 481.70" stroke="#111" stroke-width="1.12" fill="none" stroke-linecap="round" stroke-linejoin="round"/>
<path d="M487.80 475.30 L487.80 481.70" stroke="#111" stroke-width="1.12" fill="none" stroke-linecap="round" stroke-linejoin="round"/>
<path d="M484.70 493.90 L482.50 501.60" stroke="#111" stroke-width="1.12" fill="none" stroke-linecap="round" stroke-linejoin="round"/>
<path d="M490.40 489.30 L496.50 492.90" stroke="#111" stroke-width="1.12" fill="none" stroke-linecap="round" stroke-linejoin="round"/>
<text x="501.50" y="499.71" font-size="10.3" text-anchor="middle" fill="#111" stroke="#111" stroke-width="0.18">O</text>
<path d="M506.00 493.00 L516.00 487.50 L530.30 495.50" stroke="#111" stroke-width="1.12" fill="none" stroke-linecap="round" stroke-linejoin="round"/>
<path d="M545.00 487.00 L559.72 495.50 L559.72 512.50 L545.00 521.00 L530.28 512.50 L530.28 495.50Z" stroke="#111" stroke-width="1.12" fill="none" stroke-linejoin="round"/>
<path d="M533.52 509.83 L533.52 498.17" stroke="#111" stroke-width="1.12" fill="none" stroke-linecap="round" stroke-linejoin="round"/>
<path d="M545.69 491.14 L555.79 496.97" stroke="#111" stroke-width="1.12" fill="none" stroke-linecap="round" stroke-linejoin="round"/>
<path d="M555.79 511.03 L545.69 516.86" stroke="#111" stroke-width="1.12" fill="none" stroke-linecap="round" stroke-linejoin="round"/>
<text x="490.00" y="523.50" font-size="11" font-weight="bold" text-anchor="middle">BPMPA</text>
<text x="579.20" y="505.64" font-size="10.5" text-anchor="middle" fill="#111" stroke="#111" stroke-width="0.45">+</text>
<text x="598.50" y="506.21" font-size="10.3" text-anchor="start" fill="#111" stroke="#111" stroke-width="0.18">H<tspan font-size="7.6" dy="2.4">2</tspan><tspan dy="-2.4">N</tspan></text>
<path d="M618.00 500.50 L629.00 494.20 L629.00 483.60" stroke="#111" stroke-width="1.12" fill="none" stroke-linecap="round" stroke-linejoin="round"/>
<text x="624.20" y="480.91" font-size="10.3" text-anchor="start" fill="#111" stroke="#111" stroke-width="0.18">CCl<tspan font-size="7.6" dy="2.4">3</tspan></text>
<path d="M629.00 494.20 L638.30 499.30" stroke="#111" stroke-width="1.12" fill="none" stroke-linecap="round" stroke-linejoin="round"/>
<path d="M630.20 492.01 L639.50 497.11" stroke="#111" stroke-width="1.12" fill="none" stroke-linecap="round" stroke-linejoin="round"/>
<text x="642.80" y="506.21" font-size="10.3" text-anchor="middle" fill="#111" stroke="#111" stroke-width="0.18">O</text>
</g>
</svg>
</body></html>
